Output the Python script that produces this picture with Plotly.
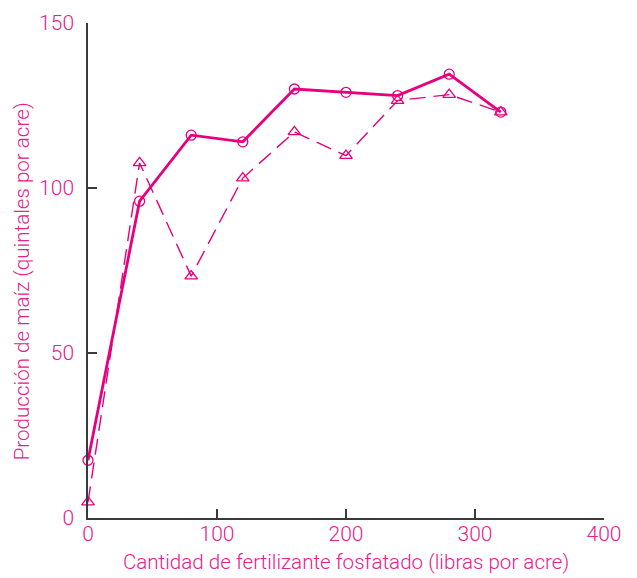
import plotly.graph_objects as go

fosfato = [0, 40, 80, 120, 160, 200, 240, 280, 320]
serie_circulos = [17.5, 96, 116, 114, 130, 129, 128, 134.5, 123]
serie_triangulos = [4.8, 107.6, 73.3, 103, 117, 109.8, 126.5, 128.3, 123]

x_ticks = [0, 100, 200, 300, 400]
y_ticks = [0, 50, 100, 150]

MAG = "#e6007e"
TXT = "#e8208a"
AX = "#3a3a3a"
FONT = "Roboto, Liberation Sans, Arial, sans-serif"

fig = go.Figure()
fig.add_trace(go.Scatter(
    x=fosfato, y=serie_triangulos, mode="lines+markers",
    line=dict(color=MAG, width=1.4, dash="16px,8px"),
    marker=dict(symbol="triangle-up-open", size=11, color=MAG, line=dict(width=1.3, color=MAG)),
    cliponaxis=False, showlegend=False))
fig.add_trace(go.Scatter(
    x=fosfato, y=serie_circulos, mode="lines+markers",
    line=dict(color=MAG, width=2.8),
    marker=dict(symbol="circle-open", size=10, color=MAG, line=dict(width=1.3, color=MAG)),
    cliponaxis=False, showlegend=False))

fig.update_layout(
    width=637, height=578,
    margin=dict(l=80, r=41, t=15, b=68, autoexpand=False),
    paper_bgcolor="white", plot_bgcolor="white",
    font=dict(family=FONT, color=TXT, weight=300),
)
fig.update_xaxes(
    range=[0, 400], tickvals=x_ticks, ticktext=[str(v) for v in x_ticks],
    showgrid=False, zeroline=False, showline=True, linecolor=AX, linewidth=1.5,
    ticks="inside", ticklen=9, tickcolor=AX, tickwidth=1.5, automargin=False,
    ticklabelstandoff=-4,
    tickfont=dict(size=21, color=TXT, family=FONT, weight=300),
    title=dict(text="Cantidad de fertilizante fosfatado (libras por acre)",
               font=dict(size=20.6, color=TXT, family=FONT, weight=300), standoff=10),
)
fig.update_yaxes(
    range=[0, 150], tickvals=y_ticks, ticktext=[str(v) for v in y_ticks],
    showgrid=False, zeroline=False, showline=True, linecolor=AX, linewidth=1.5,
    ticks="inside", ticklen=9, tickcolor=AX, tickwidth=1.5, automargin=False,
    ticklabelstandoff=8,
    tickfont=dict(size=21, color=TXT, family=FONT, weight=300),
)
fig.add_annotation(
    text="Producción de maíz (quintales por acre)", textangle=-90,
    xref="paper", yref="paper", x=-0.128, y=0.478, xanchor="center", yanchor="middle",
    showarrow=False, font=dict(size=20.6, color=TXT, family=FONT, weight=300),
)
fig.write_html("out.html")
